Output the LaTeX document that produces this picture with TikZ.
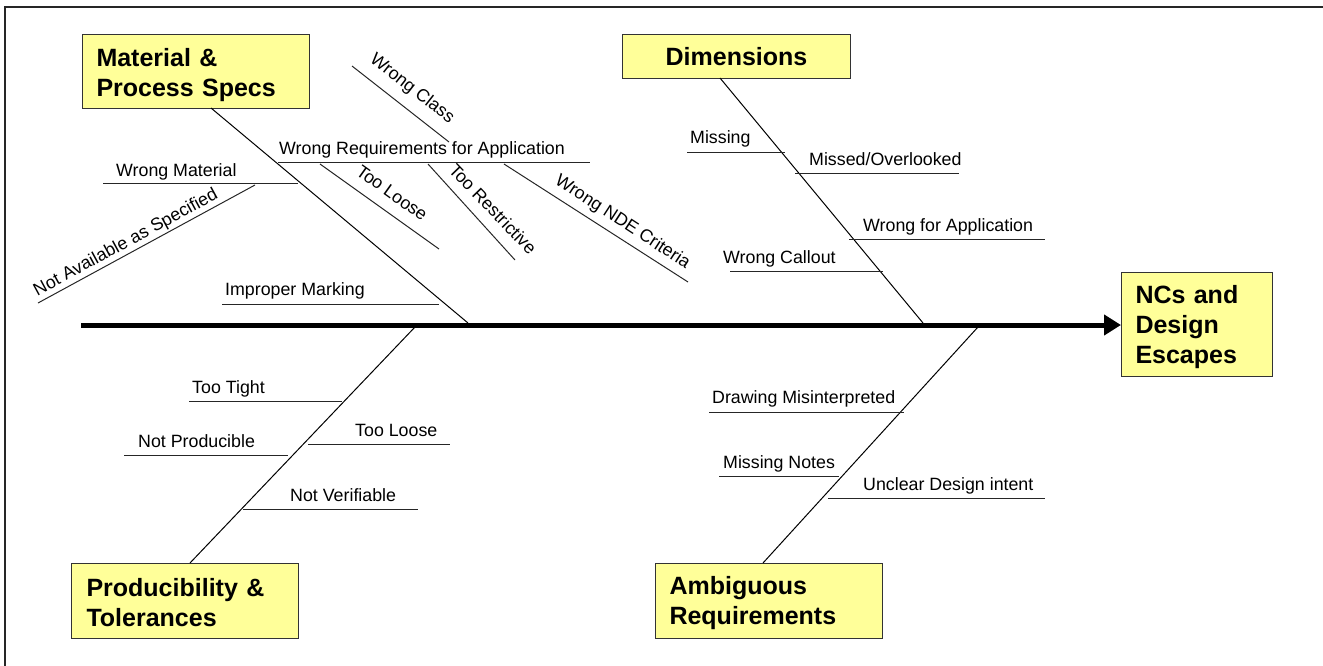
\documentclass[tikz,border=0pt]{standalone}
\usepackage{fontspec}
\setmainfont{Liberation Sans}
\usetikzlibrary{arrows.meta}
\definecolor{boxfill}{RGB}{255,255,153}
\newcommand{\tallstrut}[1]{\rule{0pt}{#1}}
\begin{document}
\begin{tikzpicture}[x=1pt,y=-1pt,
  catbox/.style={draw=black!80, line width=1pt, fill=boxfill, font=\fontsize{25}{30}\selectfont\bfseries, inner ysep=0pt, anchor=north west},
  lbl/.style={font=\fontsize{17.8}{20}\selectfont, inner sep=0pt},
  bone/.style={line width=1pt},
  twig/.style={line width=1pt, draw=black!85}]
\useasboundingbox (0,0) rectangle (1323,666);
\draw[line width=1.3pt, black!85] (5,666) -- (5,7) -- (1323,7);

% category boxes
\node[catbox, inner xsep=14pt, text width=199pt, minimum height=74pt, align=left] (mat) at (82,34) {\tallstrut{25pt}Material \&\\Process Specs};
\node[catbox, inner xsep=4pt, text width=220pt, minimum height=44pt, align=center] (dim) at (622,34) {Dimensions};
\node[catbox, inner xsep=14pt, text width=123pt, minimum height=104pt, align=left] (nc) at (1121,272) {\tallstrut{22.5pt}NCs and\\Design\\Escapes};
\node[catbox, inner xsep=15pt, text width=197pt, minimum height=75pt, align=left] (prod) at (71,563) {\tallstrut{20.5pt}Producibility \&\\Tolerances};
\node[catbox, inner xsep=14pt, text width=199pt, minimum height=75pt, align=left] (amb) at (655,563) {\tallstrut{23pt}Ambiguous\\Requirements};

% spine
\coordinate (tail) at (81,325);
\draw[line width=5pt, -{Triangle[length=17pt,width=20pt]}] (tail) -- (tail -| nc.west);

% main bones
\coordinate (mat0) at (211,108);  \coordinate (mat1) at (468,323);
\coordinate (dim0) at (720,78);   \coordinate (dim1) at (923,323);
\coordinate (prod0) at (190,563); \coordinate (prod1) at (415,327);
\coordinate (amb0) at (763,563);  \coordinate (amb1) at (978,327);
\draw[bone] (mat0) -- (mat1);
\draw[bone] (dim0) -- (dim1);
\draw[bone] (prod0) -- (prod1);
\draw[bone] (amb0) -- (amb1);

% Material & Process Specs
\draw[twig] (278,163) -- (590,163);
\node[lbl, anchor=base west] (t1) at (279,155) {Wrong Requirements for Application};
\draw[twig] (103,184) -- (298,184);
\node[lbl, anchor=base west] (t2) at (116,177) {Wrong Material};
\draw[twig] (38,303) -- (255,185);
\node[lbl, rotate=28.5] (t3) at (126,243) {Not Available as Specified};
\draw[twig] (222,304) -- (439,304);
\node[lbl, anchor=base west] (t4) at (225,295) {Improper Marking};
\draw[twig] (352,66) -- (449,142);
\node[lbl, rotate=-38] (t5) at (412,89) {Wrong Class};
\draw[twig] (320,164) -- (439,249);
\node[lbl, rotate=-35.5] (t6) at (392,193) {Too Loose};
\draw[twig] (428,164) -- (515,260);
\node[lbl, rotate=-46] (t7) at (493,209) {Too Restrictive};
\draw[twig] (504,164) -- (688,282);
\node[lbl, rotate=-33] (t8) at (622.5,222.5) {Wrong NDE Criteria};

% Dimensions
\draw[twig] (687,153) -- (785,153);
\node[lbl, anchor=base west] (d1) at (690,144) {Missing};
\draw[twig] (795,174) -- (959,174);
\node[lbl, anchor=base west] (d2) at (809,166) {Missed/Overlooked};
\draw[twig] (849,239) -- (1045,239);
\node[lbl, anchor=base west] (d3) at (863,231) {Wrong for Application};
\draw[twig] (730,271) -- (883,271);
\node[lbl, anchor=base west] (d4) at (723,263) {Wrong Callout};

% Producibility & Tolerances
\draw[twig] (189,401) -- (342,401);
\node[lbl, anchor=base west] (p1) at (192,393) {Too Tight};
\draw[twig] (124,455) -- (288,455);
\node[lbl, anchor=base west] (p2) at (138,447) {Not Producible};
\draw[twig] (308,444) -- (450,444);
\node[lbl, anchor=base west] (p3) at (355,436) {Too Loose};
\draw[twig] (243,509) -- (418,509);
\node[lbl, anchor=base west] (p4) at (290,501) {Not Verifiable};

% Ambiguous Requirements
\draw[twig] (709,412) -- (904,412);
\node[lbl, anchor=base west] (a1) at (712,403) {Drawing Misinterpreted};
\draw[twig] (719,476) -- (839,476);
\node[lbl, anchor=base west] (a2) at (723,468) {Missing Notes};
\draw[twig] (828,498) -- (1045,498);
\node[lbl, anchor=base west] (a3) at (863,490) {Unclear Design intent};
\end{tikzpicture}
\end{document}
